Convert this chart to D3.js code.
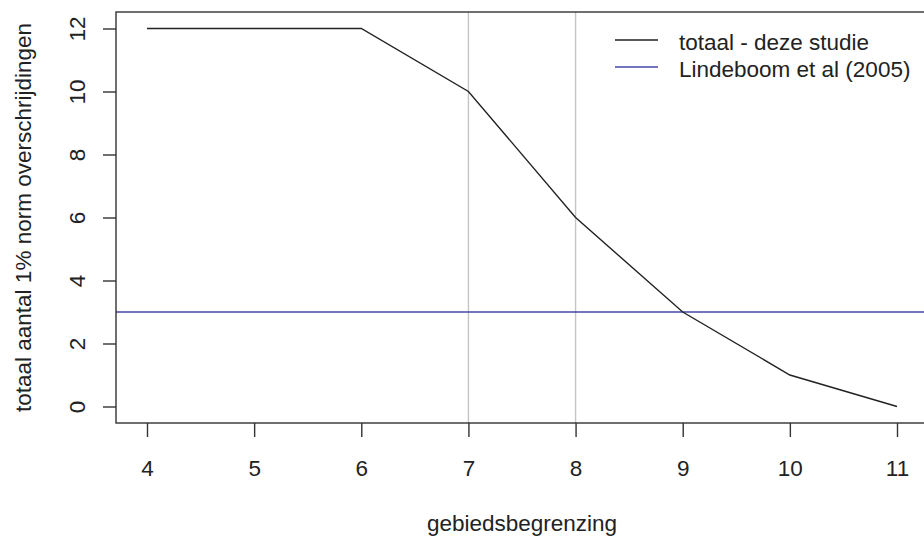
<!DOCTYPE html>
<html>
<head>
<meta charset="utf-8">
<script src="https://cdn.jsdelivr.net/npm/d3@7"></script>
<style>
body { margin: 0; background: #fff; overflow: hidden; }
text { font-family: "Liberation Sans", Arial, sans-serif; fill: #222; }
</style>
</head>
<body>
<svg id="chart" width="924" height="538"></svg>
<script>
// gebiedsbegrenzing vs totaal aantal overschrijdingen
var xs = [4, 5, 6, 7, 8, 9, 10, 11];
var totaal = [12, 12, 12, 10, 6, 3, 1, 0];
var lindeboom = 3;
var vlines = [7, 8];
var xTicks = [4, 5, 6, 7, 8, 9, 10, 11];
var yTicks = [0, 2, 4, 6, 8, 10, 12];
var legendLabels = ["totaal - deze studie", "Lindeboom et al (2005)"];
var legendColors = ["#222", "#4646a6"];

var svg = d3.select("#chart");
var boxL = 116, boxT = 12, boxB = 423, boxR = 960;
var fs = "22.5px";

var x = d3.scaleLinear().domain([4, 11]).range([147, 897]);
var y = d3.scaleLinear().domain([0, 12]).range([406.5, 28.5]);

// grey vertical reference lines
svg.selectAll("line.v").data(vlines).enter().append("line")
  .attr("x1", d => x(d)).attr("x2", d => x(d))
  .attr("y1", boxT).attr("y2", boxB)
  .attr("stroke", "#c4c4c4").attr("stroke-width", 1.4);

// horizontal reference
svg.append("line")
  .attr("x1", boxL).attr("x2", boxR)
  .attr("y1", y(lindeboom)).attr("y2", y(lindeboom))
  .attr("stroke", legendColors[1]).attr("stroke-width", 1.4);

var line = d3.line().x((d, i) => x(xs[i])).y(d => y(d));
svg.append("path").datum(totaal)
  .attr("d", line).attr("fill", "none")
  .attr("stroke", legendColors[0]).attr("stroke-width", 1.4);

// box
svg.append("rect")
  .attr("x", boxL).attr("y", boxT)
  .attr("width", boxR - boxL).attr("height", boxB - boxT)
  .attr("fill", "none").attr("stroke", "#333").attr("stroke-width", 1.4);

// x axis
var xAxis = svg.append("g").attr("transform", "translate(0," + boxB + ")")
  .call(d3.axisBottom(x).tickValues(xTicks).tickSize(14).tickFormat(d3.format("d")));
xAxis.select(".domain").remove();
xAxis.selectAll("line").attr("stroke", "#333").attr("stroke-width", 1.4);
xAxis.selectAll("text")
  .attr("y", 45).attr("dy", "0.36em")
  .style("font-size", fs).attr("fill", "#222");

// y axis
var yAxis = svg.append("g").attr("transform", "translate(" + boxL + ",0)")
  .call(d3.axisLeft(y).tickValues(yTicks).tickSize(13).tickFormat(d3.format("d")));
yAxis.select(".domain").remove();
yAxis.selectAll("line").attr("stroke", "#333").attr("stroke-width", 1.4);
yAxis.selectAll("text")
  .attr("x", 0).attr("dy", "0.36em")
  .attr("transform", "translate(-39,0) rotate(-90)")
  .attr("text-anchor", "middle")
  .style("font-size", fs).attr("fill", "#222");

// axis titles
svg.append("text")
  .attr("x", x(7.5)).attr("y", 531)
  .attr("text-anchor", "middle")
  .style("font-size", fs)
  .text("gebiedsbegrenzing");

svg.append("text")
  .attr("transform", "translate(23," + ((boxT + boxB) / 2) + ") rotate(-90)")
  .attr("text-anchor", "middle")
  .attr("dy", "0.36em")
  .style("font-size", fs)
  .text("totaal aantal 1% norm overschrijdingen");

// legend
var lg = svg.append("g").attr("transform", "translate(615,40)");
legendLabels.forEach(function(lab, i) {
  lg.append("line")
    .attr("x1", 0).attr("x2", 43)
    .attr("y1", i * 27).attr("y2", i * 27)
    .attr("stroke", legendColors[i]).attr("stroke-width", 1.4);
  lg.append("text")
    .attr("x", 64).attr("y", i * 27 + 2)
    .attr("dy", "0.36em")
    .style("font-size", fs)
    .text(lab);
});
</script>
</body>
</html>
